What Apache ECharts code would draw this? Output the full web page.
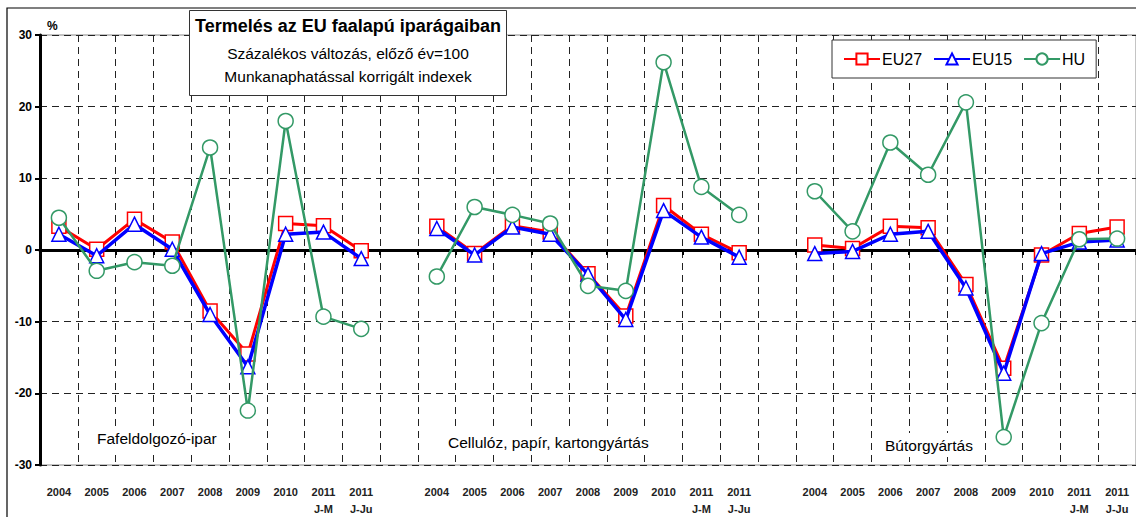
<!DOCTYPE html>
<html><head><meta charset="utf-8">
<script src="https://cdn.jsdelivr.net/npm/echarts@6/dist/echarts.min.js"></script>
<style>html,body{margin:0;padding:0;background:#fff}#c{width:1136px;height:517px}</style>
</head><body><div id="c"></div>
<script>
// categories: three groups of periods separated by an empty slot
const periods = ['2004','2005','2006','2007','2008','2009','2010','2011\nJ-M','2011\nJ-Ju'];
const categories = [...periods, '', ...periods, '', ...periods];

// Fafeldolgozó-ipar
const eu27_wood = [3.3, 0.1, 4.3, 1.1, -8.5, -14.5, 3.7, 3.4, -0.1];
const eu15_wood = [2.2, -0.8, 3.6, 0.1, -9.0, -16.3, 2.2, 2.5, -1.2];
const hu_wood   = [4.5, -2.9, -1.7, -2.2, 14.3, -22.4, 18.0, -9.3, -11.0];
// Cellulóz, papír, kartongyártás
const eu27_paper = [3.3, -0.5, 3.4, 2.5, -3.3, -9.2, 6.2, 2.2, -0.4];
const eu15_paper = [3.0, -0.7, 3.2, 2.2, -3.4, -9.7, 5.5, 1.8, -1.0];
const hu_paper   = [-3.7, 6.0, 4.9, 3.7, -5.0, -5.7, 26.2, 8.8, 4.9];
// Bútorgyártás
const eu27_furn = [0.7, 0.2, 3.3, 3.1, -4.8, -16.5, -0.7, 2.3, 3.2];
const eu15_furn = [-0.5, -0.2, 2.2, 2.6, -5.3, -17.2, -0.5, 1.1, 1.4];
const hu_furn   = [8.2, 2.6, 15.0, 10.5, 20.6, -26.1, -10.2, 1.5, 1.6];

const groupLabels = ['Fafeldolgozó-ipar', 'Cellulóz, papír, kartongyártás', 'Bútorgyártás'];
const yTicks = [-30, -20, -10, 0, 10, 20, 30];

function join(a, b, c) { return [...a, null, ...b, null, ...c]; }

const chart = echarts.init(document.getElementById('c'), null, {renderer: 'svg'});
const FONT = 'Liberation Sans, Arial, sans-serif';
const groupLabelStyle = {fontFamily: FONT, fontSize: 15.5, fontWeight: 'normal', color: '#000'};

chart.setOption({
  animation: false,
  textStyle: {fontFamily: FONT},
  title: [
    {
      text: 'Termelés az EU faalapú iparágaiban',
      subtext: 'Százalékos változás, előző év=100\nMunkanaphatással korrigált indexek',
      left: 342, top: 10, textAlign: 'center',
      backgroundColor: '#fff', borderColor: '#333', borderWidth: 1,
      padding: [5, 6, 8, 6], itemGap: 5, z: 10,
      textStyle: {fontFamily: FONT, fontSize: 18, fontWeight: 'bold', color: '#000', lineHeight: 22},
      subtextStyle: {fontFamily: FONT, fontSize: 15.5, color: '#000', lineHeight: 23}
    },
    {text: groupLabels[0], left: 94, top: 426, backgroundColor: '#fff', padding: [4, 3], textStyle: groupLabelStyle},
    {text: groupLabels[1], left: 445, top: 430, backgroundColor: '#fff', padding: [4, 3], textStyle: groupLabelStyle},
    {text: groupLabels[2], left: 882, top: 433, backgroundColor: '#fff', padding: [4, 3], textStyle: groupLabelStyle}
  ],
  legend: {
    left: 832, top: 40, padding: [11, 11],
    backgroundColor: '#fff', borderColor: '#333', borderWidth: 1,
    itemWidth: 36, itemHeight: 14, itemGap: 11,
    textStyle: {fontFamily: FONT, fontSize: 16, color: '#000', padding: [0, 0, 0, -3]},
    data: ['EU27', 'EU15', 'HU']
  },
  grid: {left: 40, right: 0, top: 35, bottom: 46, show: true, borderColor: '#888', borderWidth: 1},
  graphic: [{type: 'rect', shape: {x: 7, y: 8, width: 1140, height: 520}, style: {fill: 'none', stroke: '#000', lineWidth: 1.2}, z: 100, silent: true}],
  xAxis: [
    {
      type: 'category', data: categories, boundaryGap: true, position: 'bottom',
      axisLine: {show: false, onZero: false},
      axisTick: {show: false},
      axisLabel: {interval: 0, fontFamily: FONT, fontSize: 11, fontWeight: 'bold', color: '#222', margin: 18, lineHeight: 17},
      splitLine: {show: true, interval: 0, lineStyle: {color: '#222', type: [7, 5], width: 1}}
    },
    {
      type: 'category', data: categories, boundaryGap: true, position: 'top',
      axisLine: {show: true, onZero: true, lineStyle: {color: '#000', width: 3}},
      axisTick: {show: true, interval: 0, inside: true, length: 5, lineStyle: {color: '#000', width: 2}},
      axisLabel: {show: false},
      splitLine: {show: false}
    }
  ],
  yAxis: {
    type: 'value', min: yTicks[0], max: yTicks[yTicks.length - 1], interval: 10,
    name: '%', nameGap: 3,
    nameTextStyle: {fontFamily: FONT, fontSize: 12, fontWeight: 'bold', color: '#000', align: 'left', padding: [0, 0, 0, 7]},
    axisLine: {show: true, onZero: false, lineStyle: {color: '#000', width: 3}},
    axisTick: {show: true, length: 5, lineStyle: {color: '#000', width: 2}},
    axisLabel: {fontFamily: FONT, fontSize: 12, fontWeight: 'bold', color: '#000', margin: 8},
    splitLine: {show: true, lineStyle: {color: '#222', type: [7, 5], width: 1}}
  },
  series: [
    {
      name: 'EU27', type: 'line', data: join(eu27_wood, eu27_paper, eu27_furn), connectNulls: false,
      symbol: 'rect', symbolSize: 14, showAllSymbol: true, z: 3,
      lineStyle: {color: '#ff0000', width: 3},
      itemStyle: {color: '#fff', borderColor: '#ff0000', borderWidth: 1.5}
    },
    {
      name: 'EU15', type: 'line', data: join(eu15_wood, eu15_paper, eu15_furn), connectNulls: false,
      symbol: 'triangle', symbolSize: 14, showAllSymbol: true, z: 4,
      lineStyle: {color: '#0000ff', width: 3.5},
      itemStyle: {color: '#fff', borderColor: '#0000ff', borderWidth: 1.5}
    },
    {
      name: 'HU', type: 'line', data: join(hu_wood, hu_paper, hu_furn), connectNulls: false,
      symbol: 'circle', symbolSize: 15, showAllSymbol: true, z: 5,
      lineStyle: {color: '#339966', width: 2.5},
      itemStyle: {color: '#fff', borderColor: '#339966', borderWidth: 1.5}
    }
  ]
});
</script></body></html>
